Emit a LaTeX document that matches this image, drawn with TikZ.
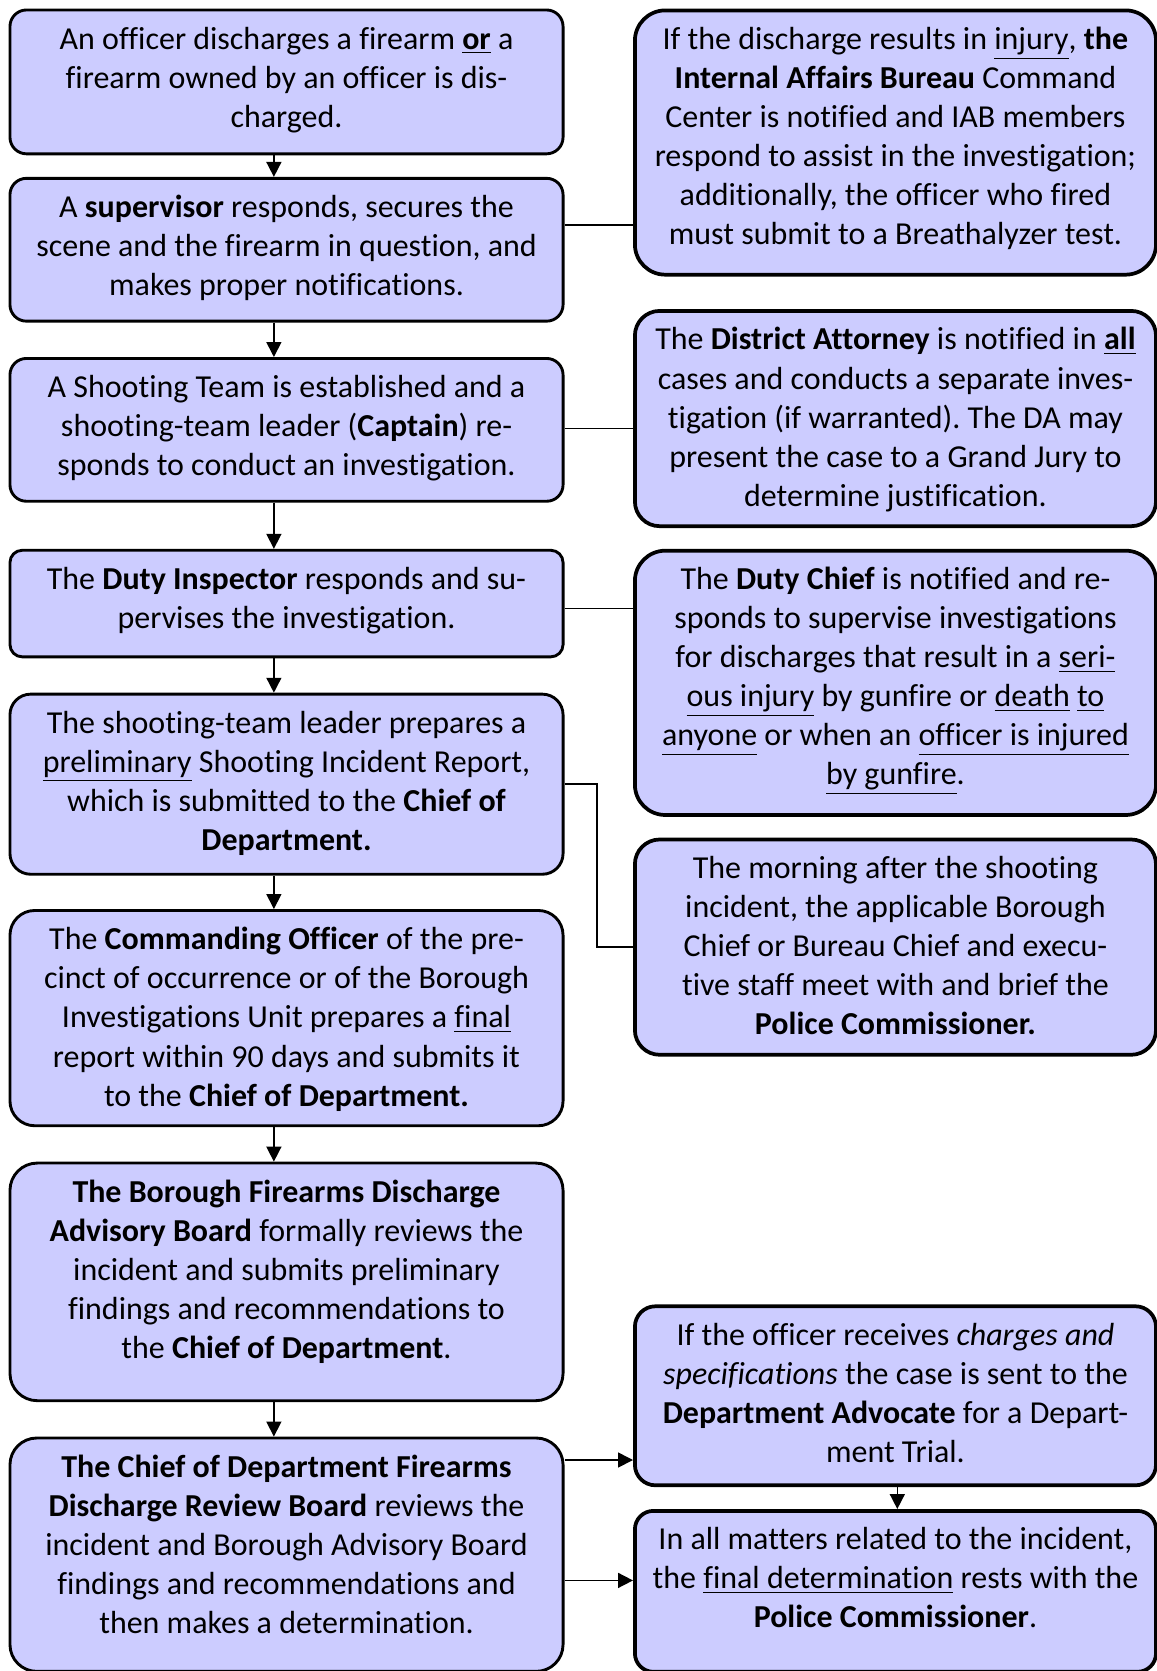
\documentclass[tikz,border=0pt]{standalone}
\usepackage{fontspec}
\setmainfont{Carlito}[Ligatures=NoCommon]
\usetikzlibrary{arrows.meta}
\definecolor{boxfill}{RGB}{204,204,255}
\frenchspacing
\tikzset{
  boxst/.style={draw, line width=1.35pt, fill=boxfill, inner sep=0pt},
  wideline/.style={line width=1.75pt},
  txtst/.style={align=center, inner sep=0pt, font=\fontsize{15}{18.3}\selectfont},
  conn/.style={line width=0.75pt},
  arr/.style={conn, -{Triangle[width=7pt,length=7pt]}},
}
% name, x1, y1, x2, y2, extra style, text
\newcommand{\flowbox}[7]{%
  \node[boxst, #6, rounded corners={(#5-#3)*0.0575pt}, anchor=north west, minimum width={(#4-#2)*0.5pt}, minimum height={(#5-#3)*0.5pt}] (#1) at (#2,#3) {};
  \node[txtst, anchor=north] (#1t) at ([yshift=-6.2pt]#1.north) {\strut #7};
}
\begin{document}
\begin{tikzpicture}[x=0.5pt, y=-0.5pt]
\useasboundingbox (0,0) rectangle (1085,1568);
% left column
\flowbox{L1}{8}{8}{527}{143}{}{An officer discharges a firearm \underline{\textbf{or}} a\\firearm owned by an officer is dis-\\charged.}
\flowbox{L2}{8}{166}{527}{300}{}{A \textbf{supervisor} responds, secures the\\scene and the firearm in question, and\\makes proper notifications.}
\flowbox{L3}{8}{335}{527}{469}{}{A Shooting Team is established and a\\shooting-team leader (\textbf{Captain}) re-\\sponds to conduct an investigation.}
\flowbox{L4}{8}{515}{527}{615}{}{The \textbf{Duty Inspector} responds and su-\\pervises the investigation.}
\flowbox{L5}{8}{650}{527}{819}{}{The shooting-team leader prepares a\\\underline{preliminary} Shooting Incident Report,\\which is submitted to the \textbf{Chief of}\\\textbf{Department.}}
\flowbox{L6}{8}{853}{527}{1055}{}{The \textbf{Commanding Officer} of the pre-\\cinct of occurrence or of the Borough\\Investigations Unit prepares a \underline{final}\\report within 90 days and submits it\\to the \textbf{Chief of Department.}}
\flowbox{L7}{8}{1090}{527}{1313}{}{\textbf{The Borough Firearms Discharge}\\\textbf{Advisory Board} formally reviews the\\incident and submits preliminary\\findings and recommendations to\\the \textbf{Chief of Department}.}
\flowbox{L8}{8}{1348}{527}{1567}{}{\textbf{The Chief of Department Firearms}\\\textbf{Discharge Review Board} reviews the\\incident and Borough Advisory Board\\findings and recommendations and\\then makes a determination.}
% right column
\flowbox{R1}{594}{8}{1083}{256}{wideline}{If the discharge results in \underline{injury}, \textbf{the}\\\textbf{Internal Affairs Bureau} Command\\Center is notified and IAB members\\respond to assist in the investigation;\\additionally, the officer who fired\\must submit to a Breathalyzer test.}
\flowbox{R2}{594}{290}{1083}{492}{wideline}{The \textbf{District Attorney} is notified in \underline{\textbf{all}}\\cases and conducts a separate inves-\\tigation (if warranted). The DA may\\present the case to a Grand Jury to\\determine justification.}
\flowbox{R3}{594}{515}{1083}{763}{wideline}{The \textbf{Duty Chief} is notified and re-\\sponds to supervise investigations\\for discharges that result in a \underline{seri-}\\\underline{ous injury} by gunfire or \underline{death} \underline{to}\\\underline{anyone} or when an \underline{officer is injured}\\\underline{by gunfire}.}
\flowbox{R4}{594}{786}{1083}{988}{wideline}{The morning after the shooting\\incident, the applicable Borough\\Chief or Bureau Chief and execu-\\tive staff meet with and brief the\\\textbf{Police Commissioner.}}
\flowbox{R5}{594}{1224}{1083}{1392}{wideline}{If the officer receives \textit{charges and}\\\textit{specifications} the case is sent to the\\\textbf{Department Advocate} for a Depart-\\ment Trial.}
\flowbox{R6}{594}{1416}{1083}{1567}{wideline}{In all matters related to the incident,\\the \underline{final determination} rests with the\\\textbf{Police Commissioner}.}
% guide coordinates
\coordinate (ax) at (257,0);
\coordinate (bx) at (842,0);
\coordinate (ex) at (560,0);
% vertical arrows
\draw[arr] (L1.south -| ax) -- (L2.north -| ax);
\draw[arr] (L2.south -| ax) -- (L3.north -| ax);
\draw[arr] (L3.south -| ax) -- (L4.north -| ax);
\draw[arr] (L4.south -| ax) -- (L5.north -| ax);
\draw[arr] (L5.south -| ax) -- (L6.north -| ax);
\draw[arr] (L6.south -| ax) -- (L7.north -| ax);
\draw[arr] (L7.south -| ax) -- (L8.north -| ax);
\draw[arr] (R5.south -| bx) -- (R6.north -| bx);
% side connectors
\draw[conn] (L2.east |- 0,211) -- (R1.west |- 0,211);
\draw[conn] (L3.east |- 0,402) -- (R2.west |- 0,402);
\draw[conn] (L4.east |- 0,571) -- (R3.west |- 0,571);
\draw[conn] (L5.east) -- (L5.east -| ex) |- (R4.west);
\draw[arr] (L8.east |- 0,1370) -- (R5.west |- 0,1370);
\draw[arr] (L8.east |- 0,1483) -- (R6.west |- 0,1483);
\end{tikzpicture}
\end{document}
